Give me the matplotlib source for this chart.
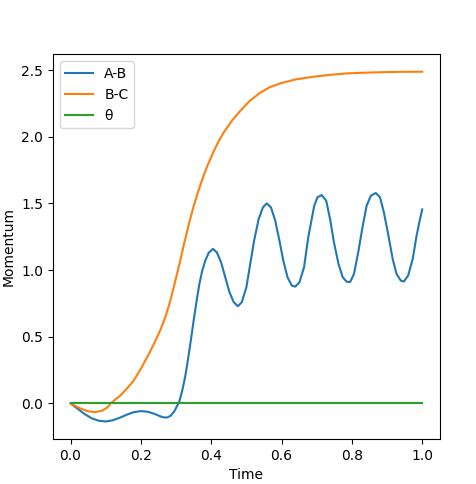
import matplotlib
matplotlib.use("Agg")
import matplotlib.pyplot as plt

# A-B momentum
t_ab = [0.0, 0.02, 0.04, 0.06, 0.08, 0.1, 0.12, 0.14, 0.16, 0.18, 0.2, 0.22,
        0.24, 0.255, 0.265, 0.275, 0.285, 0.295, 0.302, 0.31, 0.318, 0.326,
        0.334, 0.342, 0.35, 0.358, 0.366, 0.374, 0.383, 0.393, 0.405, 0.416,
        0.428, 0.44, 0.452, 0.464, 0.476, 0.487, 0.5, 0.511, 0.522, 0.535,
        0.547, 0.558, 0.57, 0.582, 0.594, 0.605, 0.617, 0.629, 0.639, 0.651,
        0.664, 0.676, 0.693, 0.702, 0.714, 0.727, 0.738, 0.749, 0.762, 0.774,
        0.785, 0.795, 0.806, 0.818, 0.831, 0.842, 0.854, 0.868, 0.88, 0.891,
        0.904, 0.916, 0.927, 0.939, 0.948, 0.96, 0.973, 0.984, 0.992, 1.0]
v_ab = [0.0, -0.04, -0.08, -0.112, -0.13, -0.136, -0.127, -0.108, -0.085,
        -0.066, -0.058, -0.063, -0.08, -0.097, -0.105, -0.106, -0.092, -0.06,
        -0.025, 0.02, 0.1, 0.2, 0.33, 0.47, 0.62, 0.76, 0.89, 0.99, 1.07,
        1.13, 1.159, 1.133, 1.059, 0.946, 0.834, 0.759, 0.729, 0.759, 0.871,
        1.046, 1.221, 1.383, 1.47, 1.5, 1.47, 1.371, 1.221, 1.071, 0.946,
        0.884, 0.876, 0.909, 1.021, 1.246, 1.483, 1.546, 1.563, 1.52, 1.383,
        1.208, 1.046, 0.946, 0.913, 0.91, 0.971, 1.133, 1.333, 1.483, 1.558,
        1.578, 1.546, 1.433, 1.258, 1.083, 0.971, 0.921, 0.914, 0.959, 1.083,
        1.258, 1.36, 1.455]

# B-C momentum
t_bc = [0.0, 0.025, 0.05, 0.071, 0.09, 0.105, 0.114, 0.128, 0.142, 0.16, 0.18,
        0.2, 0.218, 0.236, 0.255, 0.27, 0.284, 0.298, 0.312, 0.324, 0.336,
        0.348, 0.36, 0.374, 0.388, 0.407, 0.42, 0.435, 0.46, 0.483, 0.51,
        0.539, 0.565, 0.596, 0.64, 0.69, 0.74, 0.785, 0.83, 0.88, 0.94, 1.0]
v_bc = [0.0, -0.035, -0.06, -0.065, -0.055, -0.03, 0.0, 0.03, 0.06, 0.11,
        0.172, 0.26, 0.347, 0.44, 0.547, 0.65, 0.772, 0.92, 1.071, 1.21,
        1.34, 1.46, 1.565, 1.675, 1.775, 1.89, 1.96, 2.03, 2.125, 2.195,
        2.27, 2.33, 2.37, 2.4, 2.43, 2.45, 2.465, 2.475, 2.48, 2.484, 2.487,
        2.488]

# theta stays at zero
t_theta = [0.0, 1.0]
v_theta = [0.0, 0.0]

fig = plt.figure(figsize=(4.77, 4.84), dpi=100)
ax = fig.add_subplot(111)
fig.subplots_adjust(left=0.111, right=0.922, bottom=0.093, top=0.888)

ax.plot(t_ab, v_ab, label="A-B")
ax.plot(t_bc, v_bc, label="B-C")
ax.plot(t_theta, v_theta, label="θ")
ax.set_xlabel("Time")
ax.set_ylabel("Momentum")
ax.legend(loc="upper left")

fig.savefig("out.png", dpi=100)
